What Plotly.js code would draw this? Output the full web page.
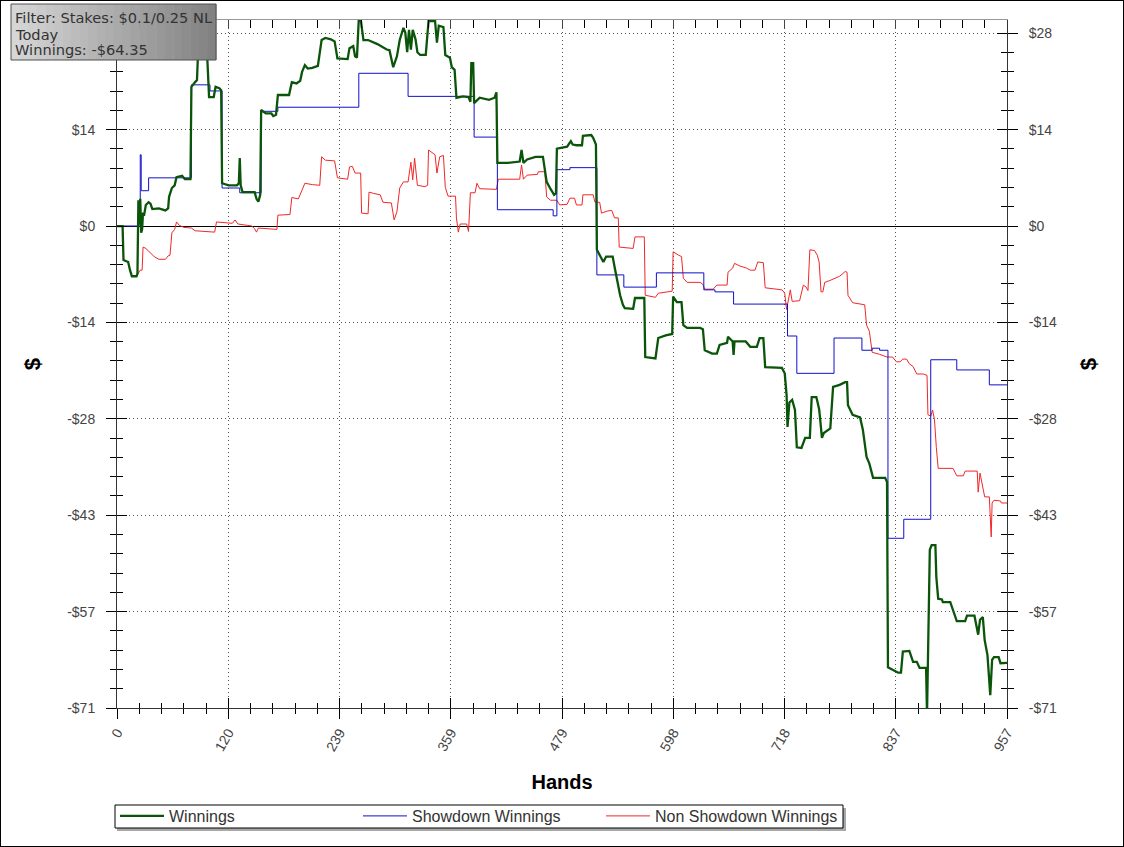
<!DOCTYPE html>
<html><head><meta charset="utf-8">
<script src="https://cdn.plot.ly/plotly-3.0.1.min.js"></script>
<style>
html,body{margin:0;padding:0;background:#fff;}
#wrap{position:relative;width:1124px;height:847px;}
#chart{width:1124px;height:847px;}
#frame{position:absolute;left:0;top:0;width:1124px;height:847px;box-sizing:border-box;border:1px solid #000;pointer-events:none;}
</style>
</head><body><div id="wrap"><div id="chart"></div><div id="frame"></div></div>
<script>
// ---------------- DATA ----------------
const TOTAL_HANDS = 957;
const xTickLabels = ['0','120','239','359','479','598','718','837','957'];
const yTickVals = [-71, -56.8, -42.6, -28.4, -14.2, 0, 14.2, 28.4];
const yTickLabels = ['-$71','-$57','-$43','-$28','-$14','$0','$14','$28'];
const yRange = [-71, 30.35];
const infoLines = ['Filter: Stakes: $0.1/0.25 NL', 'Today', 'Winnings: -$64.35'];
const seriesNames = ['Winnings', 'Showdown Winnings', 'Non Showdown Winnings'];

// [hand, $]
const winnings = [
[0,0],[6,0],[7,-5],[12,-5.3],[14,-6.5],[16,-7.4],[21,-7.4],[22,-7],[23,3.8],[24,0.2],[25,4],[26,-1],[27,-0.5],[28,2],[29,1.5],[31,3.1],[34,3.5],[36,3.3],[38,2.5],[45,2.6],[52,2.3],[55,2.6],[56,4.3],[59,5.6],[62,6],[64,7.2],[70,7.4],[73,6.9],[79,6.9],
[80,20.5],[84,21.2],[86,21.5],[87,25],[89,27.5],[95,27],[97,25],[99,19],[104,19],[106,20.5],[110,20.3],[112,20],[113,6.3],[120,6],[129,6],[131,6.3],[132,10],[133,6],[135,5],[148,5],[150,4],[152,3.6],[154,4.6],
[155,17.1],[160,16.6],[166,16.6],[168,16.2],[171,16.4],[173,19.3],[185,19.3],[188,21.2],[193,21],[197,21.4],[199,22.7],[202,23.7],[205,23.2],[210,23.3],[216,23.6],[220,27.4],[224,27.7],[230,27.5],[234,27.2],[237,24.7],[248,24.6],[250,26.2],[254,26.5],[256,25],[258,24.8],
[260,30.5],[262,30.5],[265,27.4],[270,27.4],[280,26.8],[290,26],[293,25.9],[297,23.4],[301,25],[304,27.4],[308,29.2],[310,28.5],[312,25.6],[314,28.9],[316,26],[318,28.9],[321,27.5],[323,25.6],[326,25.2],[332,25.2],[335,30.2],[342,30.2],[344,27],[346,29.5],[351,29.3],[353,25.2],[358,24.8],[360,23.4],[363,23],
[365,18.9],[372,19.1],[378,19],[380,18.3],[381,24],[383,24],[384,18.1],[390,18.9],[400,18.6],[406,18.9],[408,19.7],[409,9.3],[420,9.3],[433,9.5],[435,11.2],[437,9.3],[441,9.8],[450,10.2],[458,10.2],[462,6.5],[466,5.5],[470,4.6],[472,4.8],[473,11.4],[480,11.6],[484,11.7],[488,12.5],[490,12],[494,11.9],[500,11.9],[501,13.3],[510,13.4],[512,13],[514,12.4],[515,12],
[516,-3.5],[519,-4.3],[523,-5.3],[526,-4.5],[533,-4.5],[535,-6],[537,-7.5],[541,-10.2],[544,-11.6],[546,-12.1],[555,-12.2],[557,-10.6],[567,-10.6],[568,-19.3],[579,-19.5],[582,-16.5],[590,-16.1],[597,-15.9],[598,-10.4],[602,-11.2],[607,-11.2],[609,-14.6],[613,-15],[627,-15],[630,-15.2],[632,-18.3],[640,-18.8],[645,-18.8],[648,-17.5],[656,-17.2],[657,-16.3],[662,-17],[663,-19],[664,-17],[676,-17],[681,-17.8],[688,-17.8],[691,-16.5],[695,-16.5],[697,-20.8],[715,-20.9],[718,-21.7],[720,-24.9],[721,-29.6],[723,-26],[726,-25.6],[729,-27.1],[731,-32.6],[736,-32.7],[740,-31.2],[745,-31.2],[747,-25.2],[752,-25.2],[755,-27],[756,-28.3],[758,-31.2],[760,-30.5],[767,-29.8],[770,-23.7],[777,-23.4],[783,-23],[785,-23],[786,-26.4],[791,-27.8],[799,-28.2],[802,-30],[806,-34],[809,-35],[813,-37.1],[826,-37.1],[828,-37.7],
[829,-65],[836,-65.5],[840,-65.8],[843,-65.8],[845,-62.7],[852,-62.6],[856,-64.2],[860,-64.2],[863,-65.1],[870,-65.1],[871,-72],[874,-47.7],[876,-47],[880,-47],[881,-51.7],[883,-54.9],[887,-55],[888,-55.4],[896,-55.4],[899,-56.6],[903,-58.2],[912,-58.2],[914,-57.4],[922,-57.4],[926,-60.2],[928,-58],[931,-57.6],[933,-61],[936,-63.2],[939,-69.1],[941,-63.9],[943,-63.5],[948,-63.5],[950,-64.4],[957,-64.35]
];

// [hand, $] - value holds until next hand listed
const showdown = [
[0,0],[25,10.5],[26,5.2],[34,7.1],[80,20.8],[100,19.9],[113,5.6],[132,4.9],[155,16.9],[173,17.5],[260,22.5],[313,19.1],[384,13.1],[409,2.4],[469,1.5],[473,8.3],[487,8.6],[516,-7.2],[545,-9],[580,-6.9],[631,-9.4],[643,-9.7],[663,-11.5],[721,-16.2],[731,-21.7],[771,-16.5],[801,-18.3],[812,-18],[820,-18.3],[829,-46],[846,-43.2],[875,-19.7],[903,-21.2],[938,-23.4],[957,-23.4]
];

const nonShowdown = [
[0,0],[6,0],[7,-5],[12,-5.3],[14,-6.5],[16,-7.4],[21,-7.4],[23,-7],[25,-6.5],[27,-6.5],[28,-3.1],[31,-3.3],[34,-3.7],[37,-4.2],[40,-4.5],[45,-4.9],[52,-4.9],[55,-4.4],[57,-4.3],[59,-1],[62,-0.5],[64,0.6],[67,0.1],[72,-0.2],[80,-0.3],[84,-0.7],[95,-0.8],[105,-0.9],[107,0.6],[115,0.5],[124,0.4],[127,0.9],[130,0.3],[140,0.1],[145,0],[148,-0.4],[150,-0.9],[152,-0.3],[160,-0.4],[172,-0.5],[173,1.6],[186,1.7],[188,4.2],[195,4],[199,5.3],[202,6.3],[210,6.1],[218,6],[220,10.2],[224,9.7],[234,9.6],[237,7.1],[248,6.9],[250,8.7],[253,8.8],[256,7.8],[262,7.8],[263,1.9],[270,1.8],[271,5],[276,4.8],[283,4.6],[286,3.5],[295,3.4],[298,0.9],[301,2.1],[304,5.6],[308,6.5],[313,6.5],[316,9.4],[318,6.8],[320,10],[323,6],[331,5.8],[334,6],[335,11.2],[342,10.5],[344,7.8],[347,10.2],[351,10.4],[353,5.7],[356,4.4],[364,4.4],[365,1.2],[367,-0.9],[369,0.3],[376,0.3],[378,-0.8],[380,4.9],[385,4.9],[387,6.3],[390,5.5],[408,5.4],[410,6.9],[433,6.9],[435,9],[437,6.9],[441,7.5],[452,7.6],[453,8],[460,8],[462,4.3],[466,3.8],[473,3.8],[476,3.1],[484,3.2],[487,4.1],[492,4.1],[494,3.1],[500,3.1],[501,4.6],[512,4.6],[514,3.5],[519,3.5],[521,1.9],[527,2.2],[532,2.3],[535,1.2],[539,1.2],[540,-3.1],[555,-3.3],[557,-1.6],[567,-1.6],[568,-10.2],[579,-10.5],[582,-9.9],[597,-9.6],[598,-3.8],[604,-4.3],[607,-4.5],[609,-7.7],[613,-8.3],[627,-8.3],[630,-8.6],[632,-9.3],[641,-9.3],[645,-8.7],[656,-8.7],[657,-6.8],[662,-6.2],[664,-5.5],[670,-5.9],[677,-6.2],[681,-6.5],[686,-6.5],[689,-5.3],[695,-5.4],[697,-9.1],[715,-9.4],[718,-9.9],[720,-12.3],[724,-9.4],[726,-11.1],[734,-11],[738,-8.7],[741,-9],[743,-9.5],[745,-3.5],[750,-3.6],[753,-4.3],[755,-5.3],[757,-9.7],[759,-9.7],[761,-8.3],[767,-8],[777,-7.4],[783,-6.7],[785,-6.8],[786,-10.2],[791,-11.3],[804,-11.6],[806,-14.6],[809,-15.5],[812,-18.6],[820,-18.9],[828,-19.3],[834,-19.3],[838,-20],[842,-20],[845,-19.6],[849,-19.6],[852,-20.3],[856,-20.7],[860,-21.8],[867,-21.8],[871,-22],[872,-27.8],[875,-28],[877,-27.1],[879,-28.5],[881,-32.6],[883,-35.7],[899,-35.7],[903,-36.8],[910,-36.8],[912,-36.1],[925,-36.1],[926,-39.2],[928,-36.4],[933,-39.9],[938,-39.9],[940,-45.8],[941,-40.8],[943,-40.4],[950,-40.5],[951,-40.8],[957,-40.8]
];

// ---------------- CHART ----------------
const xs = a => a.map(p => p[0]);
const ys = a => a.map(p => p[1]);
const xTickVals = xTickLabels.map((_, i) => i * TOTAL_HANDS / 8);
const FONT = 'Liberation Sans, Arial, sans-serif';

const traces = [
  {x: xs(nonShowdown), y: ys(nonShowdown), name: seriesNames[2], type: 'scatter', mode: 'lines',
   line: {color: '#f02828', width: 1}, legendrank: 3},
  {x: xs(showdown), y: ys(showdown), name: seriesNames[1], type: 'scatter', mode: 'lines',
   line: {color: '#1010c8', width: 1, shape: 'hv'}, legendrank: 2},
  {x: xs(winnings), y: ys(winnings), name: seriesNames[0], type: 'scatter', mode: 'lines',
   line: {color: '#0a550a', width: 2.3}, legendrank: 1},
  {x: [], y: [], xaxis: 'x2', yaxis: 'y2', showlegend: false, hoverinfo: 'skip'},
  {x: [], y: [], xaxis: 'x3', yaxis: 'y3', showlegend: false, hoverinfo: 'skip'}
];

const tickFont = {family: FONT, size: 14, color: '#444'};
const xMinor = (dir, len) => ({tick0: 0, dtick: TOTAL_HANDS / 40, ticks: dir, ticklen: len, tickcolor: '#000', tickwidth: 1, showgrid: false});
const yMinor = (dir, len) => ({tick0: -71, dtick: 2.84, ticks: dir, ticklen: len, tickcolor: '#000', tickwidth: 1, showgrid: false});

// pixel -> paper helpers (plot area: x 117..1007, y 20..708)
const px = v => (v - 117) / 890;
const py = v => (708 - v) / 688;

const shapes = [];
// gradient info box (decoration)
const N = 24;
for (let i = 0; i < N; i++) {
  const t = i / (N - 1);
  const c = Math.round(214 - t * (214 - 130));
  shapes.push({type: 'rect', xref: 'paper', yref: 'paper', layer: 'above',
    x0: px(11 + 205 * i / N), x1: px(11 + 205 * (i + 1) / N + 0.5), y0: py(60), y1: py(4),
    fillcolor: `rgb(${c},${c},${c})`, line: {width: 0}});
}
shapes.push({type: 'rect', xref: 'paper', yref: 'paper', layer: 'above', x0: px(11), x1: px(216), y0: py(60), y1: py(4),
  fillcolor: 'rgba(0,0,0,0)', line: {color: '#505050', width: 1}});
// legend box with shadow
shapes.push({type: 'rect', xref: 'paper', yref: 'paper', layer: 'above',
  x0: px(117), x1: px(846), y0: py(831), y1: py(808), fillcolor: '#a8a8a8', line: {width: 0}});
shapes.push({type: 'rect', xref: 'paper', yref: 'paper', layer: 'above',
  x0: px(115), x1: px(843), y0: py(828), y1: py(805), fillcolor: '#fff', line: {color: '#000', width: 1}});

const annotations = infoLines.map((t, i) => ({
  text: t, xref: 'paper', yref: 'paper', x: px(13), y: py(18 + i * 16),
  xanchor: 'left', yanchor: 'middle', showarrow: false,
  font: {family: 'DejaVu Sans, sans-serif', size: 14.6, color: '#333'}
}));

const layout = {
  width: 1124, height: 847,
  margin: {l: 117, r: 117, t: 20, b: 139, autoexpand: false},
  paper_bgcolor: '#fff', plot_bgcolor: '#fff',
  showlegend: true,
  legend: {orientation: 'h', x: px(115), y: py(799), xanchor: 'left', yanchor: 'top',
    bgcolor: 'rgba(0,0,0,0)', borderwidth: 0,
    font: {family: FONT, size: 16, color: '#333'}, entrywidth: 184, entrywidthmode: 'pixels',
    itemwidth: 44, traceorder: 'normal'},
  xaxis: {range: [0, TOTAL_HANDS], tickmode: 'array', tickvals: xTickVals, ticktext: xTickLabels, tickangle: -60,
    tickfont: tickFont, ticks: 'outside', ticklen: 10, tickcolor: '#000', tickwidth: 1,
    showline: true, linecolor: '#333', linewidth: 1, zeroline: false,
    showgrid: true, gridcolor: '#555', griddash: '1px,3px', gridwidth: 1,
    minor: xMinor('outside', 5),
    title: {text: 'Hands', font: {family: FONT, size: 20, color: '#000', weight: 'bold'}, standoff: 21},
    fixedrange: true},
  xaxis2: {overlaying: 'x', anchor: 'y', side: 'bottom', range: [0, TOTAL_HANDS], tickmode: 'array', tickvals: xTickVals,
    showticklabels: false, ticks: 'inside', ticklen: 10, tickcolor: '#000', showgrid: false, zeroline: false, showline: false,
    minor: xMinor('inside', 5)},
  xaxis3: {overlaying: 'x', anchor: 'y', side: 'top', range: [0, TOTAL_HANDS], tickmode: 'array', tickvals: xTickVals,
    showticklabels: false, ticks: 'inside', ticklen: 8, tickcolor: '#444', showgrid: false, zeroline: false,
    showline: true, linecolor: '#999', minor: xMinor('inside', 8)},
  yaxis: {range: yRange, tickmode: 'array', tickvals: yTickVals, ticktext: yTickLabels, tickfont: tickFont,
    ticks: 'outside', ticklen: 10, tickcolor: '#000', tickwidth: 1, ticklabelstandoff: 8,
    showline: true, linecolor: '#333',
    zeroline: true, zerolinecolor: '#000', zerolinewidth: 1,
    showgrid: true, gridcolor: '#555', griddash: '1px,3px', gridwidth: 1,
    minor: yMinor('outside', 6),
    title: {text: '$', font: {family: FONT, size: 22, color: '#000', weight: 'bold'}, standoff: 20},
    fixedrange: true},
  yaxis2: {overlaying: 'y', anchor: 'x', side: 'right', range: yRange, tickmode: 'array', tickvals: yTickVals, ticktext: yTickLabels,
    tickfont: tickFont, ticks: 'outside', ticklen: 10, tickcolor: '#000', ticklabelstandoff: 8,
    showline: true, linecolor: '#333', showgrid: false, zeroline: false,
    minor: yMinor('outside', 6),
    title: {text: '$', font: {family: FONT, size: 22, color: '#000', weight: 'bold'}, standoff: 24}},
  yaxis3: {overlaying: 'y', anchor: 'x', side: 'left', range: yRange, tickmode: 'array', tickvals: yTickVals,
    showticklabels: false, ticks: 'inside', ticklen: 10, tickcolor: '#000', mirror: 'ticks',
    showline: true, linecolor: '#333', showgrid: false, zeroline: false,
    minor: yMinor('inside', 6)},
  shapes: shapes,
  annotations: annotations
};

Plotly.newPlot('chart', traces, layout, {displayModeBar: false, staticPlot: true});
</script></body></html>
